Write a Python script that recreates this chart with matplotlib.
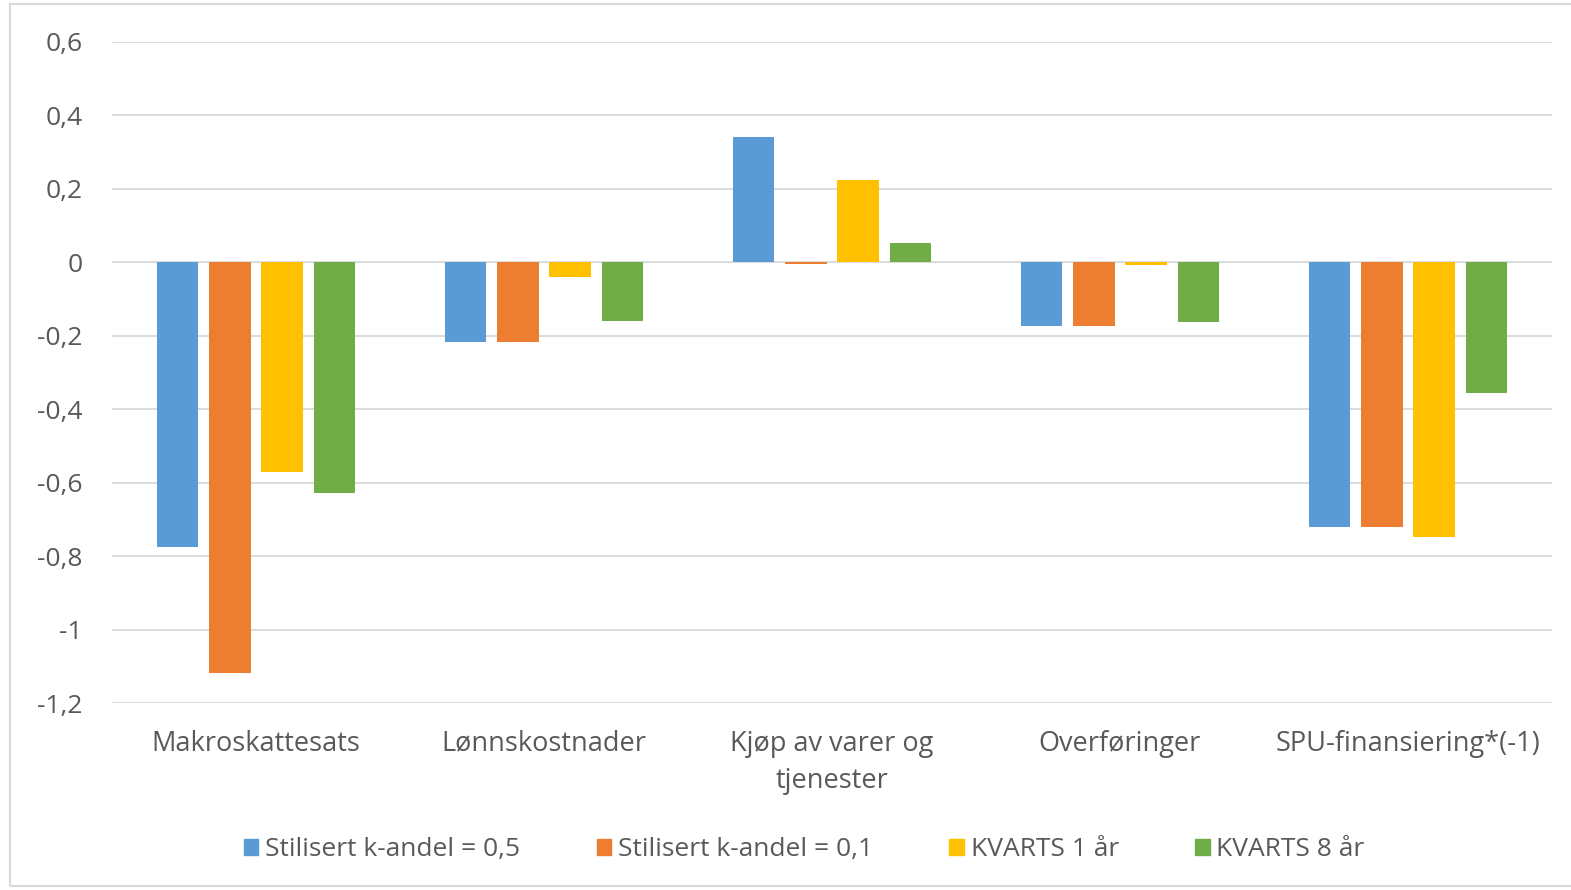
import numpy as np
import matplotlib
matplotlib.use("Agg")
import matplotlib.pyplot as plt
from matplotlib.patches import Patch, Rectangle

plt.rcParams["font.family"] = ["Open Sans", "DejaVu Sans"]

categories = ["Makroskattesats", "Lønnskostnader", "Kjøp av varer og\ntjenester",
              "Overføringer", "SPU-finansiering*(-1)"]
series_names = ["Stilisert k-andel = 0,5", "Stilisert k-andel = 0,1",
                "KVARTS 1 år", "KVARTS 8 år"]
k_05 = [-0.775, -0.218, 0.341, -0.174, -0.719]
k_01 = [-1.117, -0.218, -0.006, -0.174, -0.719]
kvarts_1 = [-0.571, -0.040, 0.223, -0.008, -0.748]
kvarts_8 = [-0.627, -0.161, 0.053, -0.162, -0.356]
yticks = [0.6, 0.4, 0.2, 0, -0.2, -0.4, -0.6, -0.8, -1, -1.2]

colors = ["#5b9bd5", "#ed7d31", "#ffc000", "#70ad47"]
text_col = "#595959"
grid_col = "#d9d9d9"

fig = plt.figure(figsize=(15.71, 8.90), dpi=100)
ax = fig.add_axes([0.0713, 0.2098, 0.9166, 0.7433])

x = np.arange(len(categories))
step = 0.181
width = 0.143
for i, (vals, name) in enumerate(zip([k_05, k_01, kvarts_1, kvarts_8], series_names)):
    ax.bar(x + (i - 1.5) * step, vals, width, color=colors[i], label=name, zorder=3)

ax.set_xlim(-0.5, len(categories) - 0.5)
ax.set_ylim(-1.2, 0.6)
ax.set_yticks(yticks)
ax.set_yticklabels([f"{v:g}".replace(".", ",") for v in yticks])
ax.set_xticks(x)
ax.set_xticklabels(categories, linespacing=1.45)
ax.tick_params(axis="y", length=0, pad=21, labelsize=19, labelcolor=text_col)
ax.tick_params(axis="x", length=0, pad=19, labelsize=19.5, labelcolor=text_col)
ax.yaxis.grid(True, color=grid_col, lw=1.3, zorder=0)
for s in ax.spines.values():
    s.set_visible(False)

handles = [Patch(color=c) for c in colors]
fig.legend(handles, series_names, loc="center", bbox_to_anchor=(0.512, 0.045),
           ncol=4, frameon=False, fontsize=19, labelcolor=text_col,
           handlelength=0.55, handleheight=0.55, handletextpad=0.25, columnspacing=2.9)

# light frame round the chart area
fig.patches.append(Rectangle((10 / 1571, 4 / 890), 1.1, 882 / 890,
                             transform=fig.transFigure, fill=False,
                             edgecolor=grid_col, lw=1.5))

fig.savefig("out.png", dpi=100)
